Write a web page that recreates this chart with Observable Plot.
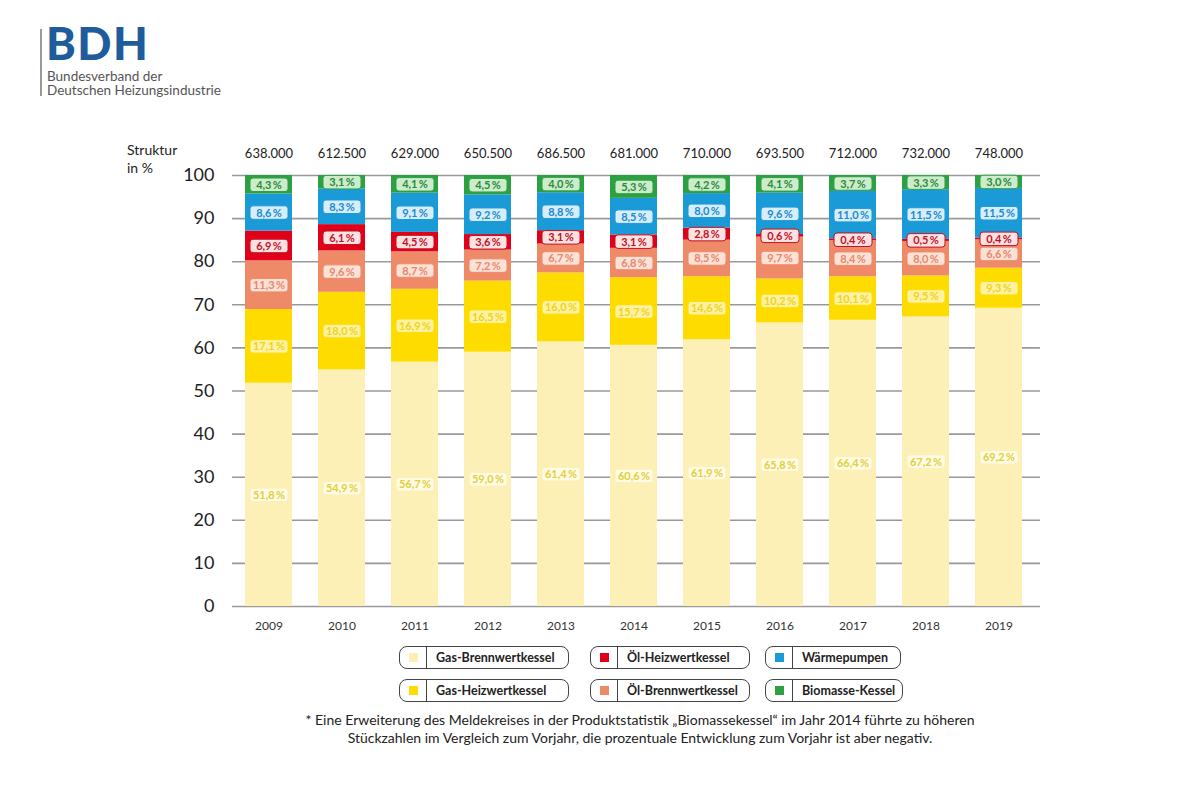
<!DOCTYPE html>
<html>
<head>
<meta charset="utf-8">
<script src="https://cdn.jsdelivr.net/npm/d3@7"></script>
<script src="https://cdn.jsdelivr.net/npm/@observablehq/plot@0.6"></script>
<style>
  body { margin: 0; background: #fff; font-family: Lato, "Open Sans", sans-serif; color: #222; }
  #wrap { position: relative; width: 1200px; height: 800px; overflow: hidden; }
  #logoline { position: absolute; left: 40px; top: 29px; width: 1.5px; height: 67px; background: #999; }
  #logobig { position: absolute; left: 46px; top: 21px; font-family: Lato, sans-serif; font-weight: 900; font-size: 45px; line-height: 45px; color: #1f5c9c; letter-spacing: 1.5px; }
  #logosub { position: absolute; left: 47px; top: 69px; font-size: 13.5px; line-height: 14px; color: #555; }
  #ylab { position: absolute; left: 127px; top: 141px; font-size: 14px; line-height: 18px; color: #222; }
  #chart { position: absolute; left: 0; top: 130px; }
  .leg { position: absolute; border: 1.3px solid #444; border-radius: 8px; display: flex; align-items: center; font-weight: 700; font-size: 12.5px; color: #222; box-sizing: border-box; height: 23px; }
  .leg .sw { width: 26px; height: 100%; border-right: 1.3px solid #444; display: flex; align-items: center; justify-content: center; }
  .leg .sw span { width: 9px; height: 9px; display: block; }
  .leg .tx { padding-left: 9px; }
  #note { position: absolute; left: 0; width: 1280px; top: 711px; text-align: center; font-size: 14px; line-height: 18px; color: #222; }
</style>
</head>
<body>
<div id="wrap">
  <div id="logoline"></div>
  <div id="logobig">BDH</div>
  <div id="logosub">Bundesverband der<br>Deutschen Heizungsindustrie</div>
  <div id="ylab">Struktur<br>in %</div>
  <div id="chart"></div>
  <div id="legend"></div>
  <div id="note">* Eine Erweiterung des Meldekreises in der Produktstatistik „Biomassekessel“ im Jahr 2014 führte zu höheren<br>Stückzahlen im Vergleich zum Vorjahr, die prozentuale Entwicklung zum Vorjahr ist aber negativ.</div>
</div>
<script>
// ---- data ----
const years = ["2009","2010","2011","2012","2013","2014","2015","2016","2017","2018","2019"];
const totals = [638000, 612500, 629000, 650500, 686500, 681000, 710000, 693500, 712000, 732000, 748000];
const seriesNames = ["Gas-Brennwertkessel","Gas-Heizwertkessel","Öl-Brennwertkessel","Öl-Heizwertkessel","Wärmepumpen","Biomasse-Kessel"];
const gasBrennwert = [51.8, 54.9, 56.7, 59.0, 61.4, 60.6, 61.9, 65.8, 66.4, 67.2, 69.2];
const gasHeizwert  = [17.1, 18.0, 16.9, 16.5, 16.0, 15.7, 14.6, 10.2, 10.1, 9.5, 9.3];
const oelBrennwert = [11.3, 9.6, 8.7, 7.2, 6.7, 6.8, 8.5, 9.7, 8.4, 8.0, 6.6];
const oelHeizwert  = [6.9, 6.1, 4.5, 3.6, 3.1, 3.1, 2.8, 0.6, 0.4, 0.5, 0.4];
const waermepumpen = [8.6, 8.3, 9.1, 9.2, 8.8, 8.5, 8.0, 9.6, 11.0, 11.5, 11.5];
const biomasse     = [4.3, 3.1, 4.1, 4.5, 4.0, 5.3, 4.2, 4.1, 3.7, 3.3, 3.0];
const yTicks = [0,10,20,30,40,50,60,70,80,90,100];

// ---- styles ----
const barColors  = ["#fcf0b6","#ffdc00","#ee8a68","#e1001a","#1b9ad8","#2da044"];
const boxColors  = ["#fffbe4","#fff3a3","#fbe1d6","#fde2e3","#d7eefa","#cdeccb"];
const textColors = ["#e3cf3a","#f0d21a","#e9876a","#c1121f","#1a8bcf","#2a8a3b"];
const legendLayout = [[399,646,170],[590,646,160],[765,646,136],[399,679,170],[590,679,160],[765,679,138]];
const legendOrder = [0,3,4,1,2,5];

const valuesBySeries = [gasBrennwert, gasHeizwert, oelBrennwert, oelHeizwert, waermepumpen, biomasse];
const rows = years.flatMap((year, i) => seriesNames.map((s, k) => ({year, series: s, k, value: valuesBySeries[k][i]})));
const totalRows = years.map((year, i) => ({year, total: totals[i]}));

const de = d3.formatLocale({decimal: ",", thousands: ".", grouping: [3], currency: ["", " €"]});
const fmtTotal = de.format(",");
const fmtPct = v => v.toFixed(1).replace(".", ",") + "\u2009%";

const roundRect = {
  draw(ctx) {
    const w = 38, h = 13.5, r = 3;
    const x0 = -w / 2, y0 = -h / 2, x1 = w / 2, y1 = h / 2;
    ctx.moveTo(x0 + r, y0);
    ctx.arcTo(x1, y0, x1, y1, r);
    ctx.arcTo(x1, y1, x0, y1, r);
    ctx.arcTo(x0, y1, x0, y0, r);
    ctx.arcTo(x0, y0, x1, y0, r);
    ctx.closePath();
  }
};

const chart = Plot.plot({
  width: 1200,
  height: 516,
  marginLeft: 232,
  marginRight: 160,
  marginTop: 45,
  marginBottom: 40,
  style: {fontFamily: "Lato, 'Open Sans', sans-serif", background: "transparent", overflow: "visible"},
  x: {domain: years, paddingInner: 0.36, paddingOuter: 0.16, align: 0.4, label: null},
  y: {domain: [0, 100], label: null},
  color: {type: "identity"},
  marks: [
    Plot.ruleY(yTicks, {stroke: "#999", strokeWidth: 1.6}),
    Plot.barY(rows, {x: "year", y: "value", z: "series", order: seriesNames, fill: d => barColors[d.k]}),
    Plot.dot(rows, Plot.stackY({x: "year", y: "value", z: "series", order: seriesNames,
      symbol: roundRect, fill: d => boxColors[d.k], stroke: d => d.k === 3 ? "#c1121f" : barColors[d.k], strokeWidth: 1})),
    Plot.text(rows, Plot.stackY({x: "year", y: "value", z: "series", order: seriesNames,
      text: d => fmtPct(d.value), fill: d => textColors[d.k], fontSize: 11, fontWeight: "bold", dy: 0.5})),
    Plot.text(totalRows, {x: "year", y: () => 100, text: d => fmtTotal(d.total), dy: -22, fontSize: 13, fill: "#222"}),
    Plot.axisY({ticks: yTicks, tickSize: 0, tickPadding: 18, fontSize: 18, label: null, fill: "#222"}),
    Plot.axisX({tickSize: 0, tickPadding: 15, fontSize: 12, label: null, fill: "#333"})
  ]
});
document.getElementById("chart").appendChild(chart);

// legend
const legend = document.getElementById("legend");
legendOrder.forEach((k, j) => {
  const [x, y, w] = legendLayout[j];
  const el = document.createElement("div");
  el.className = "leg";
  el.style.left = x + "px"; el.style.top = y + "px"; el.style.width = w + "px";
  el.innerHTML = `<div class="sw"><span style="background:${barColors[k]}"></span></div><div class="tx">${seriesNames[k]}</div>`;
  legend.appendChild(el);
});
</script>
</body>
</html>
